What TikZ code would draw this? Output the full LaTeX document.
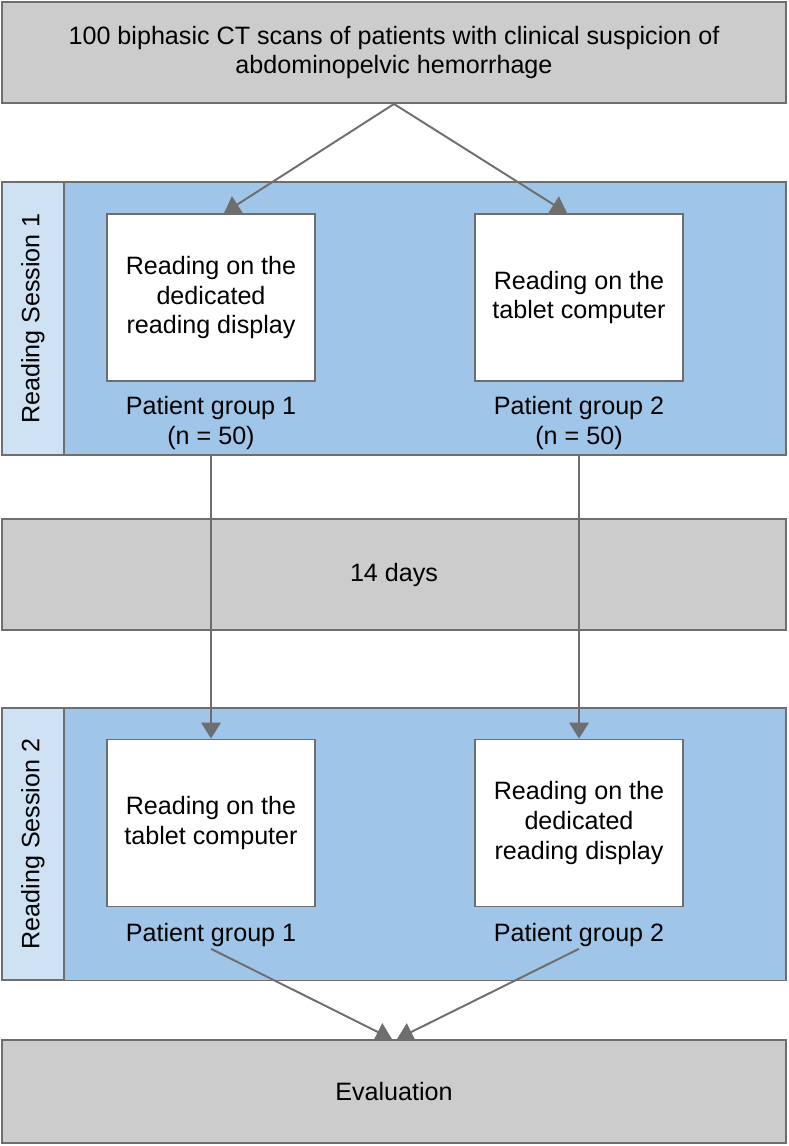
\documentclass[tikz,border=0pt]{standalone}
\usepackage{fontspec}
\setmainfont{Liberation Sans}
\usepackage{tikz}
\usetikzlibrary{arrows.meta,positioning,calc}
\definecolor{boxgray}{HTML}{CCCCCC}
\definecolor{sessblue}{HTML}{9FC5E8}
\definecolor{labblue}{HTML}{CFE2F3}
\definecolor{linegray}{HTML}{6E6E6E}

\begin{document}
\begin{tikzpicture}[x=0.02cm,y=-0.02cm,>={Triangle[length=9pt,width=11pt]},
every node/.style={font=\fontsize{14.3}{17}\selectfont,align=center},
band/.style={draw=linegray,line width=1.1pt,fill=boxgray,minimum width=15.68cm,inner sep=0pt},
session/.style={draw=linegray,line width=1.1pt,fill=sessblue,minimum width=14.44cm,minimum height=5.46cm,inner sep=0pt},
sesslab/.style={draw=linegray,line width=1.1pt,fill=labblue,minimum height=1.24cm,inner sep=0pt,rotate=90},
reading/.style={draw=linegray,line width=1.1pt,fill=white,minimum width=4.16cm,minimum height=3.34cm,inner sep=0pt},
group/.style={inner sep=1pt},
flow/.style={->,line width=1.1pt,draw=linegray,fill=linegray}]
\useasboundingbox (0,0) rectangle (788,1146);
\node[band,minimum height=2.02cm] (scans) at (394,52.5)
{100 biphasic CT scans of patients with clinical suspicion of\\abdominopelvic hemorrhage};
\node[session] (sess1) at (425,318.5) {};
\node[sesslab,minimum width=5.46cm] (sess1lab) at (33,318.5) {Reading Session 1};
\node[reading] (disp1) at (211,297.5) {Reading on the\\dedicated\\reading display};
\node[reading] (tab1) at (579,297.5) {Reading on the\\tablet computer};
\node[group] (grp1a) at (211,423) {Patient group 1\\(n = 50)};
\node[group] (grp2a) at (579,423) {Patient group 2\\(n = 50)};
\node[band,minimum height=2.22cm] (days) at (394,574.5) {14 days};
\node[session] (sess2) at (425,844) {};
\node[sesslab,minimum width=5.44cm] (sess2lab) at (33,844) {Reading Session 2};
\node[reading] (tab2) at (211,823) {Reading on the\\tablet computer};
\node[reading] (disp2) at (579,823) {Reading on the\\dedicated\\reading display};
\node[group] (grp1b) at (211,935) {Patient group 1};
\node[group] (grp2b) at (579,935) {Patient group 2};
\node[band,minimum height=2.06cm] (eval) at (394,1091.5) {Evaluation};
\draw[flow] (scans.south) -- ($(disp1.north)+(13,0)$);
\draw[flow] (scans.south) -- ($(tab1.north)+(-12,0)$);
\draw[flow] (sess1.south -| grp1a) -- (tab2.north);
\draw[flow] (sess1.south -| grp2a) -- (disp2.north);
\draw[flow] (grp1b.south) -- ($(eval.north)+(-2,0)$);
\draw[flow] (grp2b.south) -- ($(eval.north)+(3,0)$);
\end{tikzpicture}
\end{document}
